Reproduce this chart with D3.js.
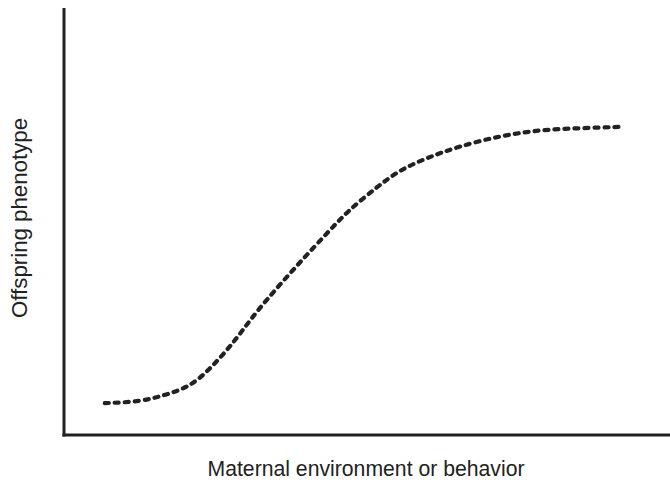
<!DOCTYPE html>
<html><head><meta charset="utf-8">
<script src="https://cdn.jsdelivr.net/npm/d3@7"></script>
<style>body{margin:0;background:#fff}svg{display:block}</style>
</head><body>
<svg id="c" width="670" height="482"></svg>
<script>
const xVals = [6.8, 12.7, 16.8, 20.5, 23.8, 28.8, 31.8, 39, 44.6, 47.3, 52.2, 56, 60.5, 65.5, 72.7, 79.3, 86, 92.7];
const yVals = [7.5, 7.8, 9.4, 11.1, 14.6, 22.6, 28.7, 40.2, 48.6, 52.7, 58.4, 62.4, 65.2, 67.8, 70.4, 71.8, 72.2, 72.5];
const xLabel = "Maternal environment or behavior";
const yLabel = "Offspring phenotype";

const svg = d3.select("#c");
const x = d3.scaleLinear().domain([0,100]).range([64,664]);
const y = d3.scaleLinear().domain([0,100]).range([435,10]);

svg.append("line").attr("x1",x(0)).attr("x2",x(0)).attr("y1",8).attr("y2",y(0)+1.5)
  .attr("stroke","#222").attr("stroke-width",3);
svg.append("line").attr("x1",x(0)-1.5).attr("x2",670).attr("y1",y(0)).attr("y2",y(0))
  .attr("stroke","#222").attr("stroke-width",3);

const pts = xVals.map((v,i)=>[v,yVals[i]]);
const line = d3.line().x(d=>x(d[0])).y(d=>y(d[1])).curve(d3.curveBasis);
svg.append("path").attr("d",line(pts)).attr("fill","none")
  .attr("stroke","#222").attr("stroke-width",4.2).attr("stroke-linecap","round")
  .attr("stroke-dasharray","4,6");

svg.append("text").attr("x",366).attr("y",476).attr("text-anchor","middle")
  .attr("font-family","Liberation Sans, Arial, sans-serif").attr("font-size",21.3).attr("fill","#222")
  .attr("textLength",317).attr("lengthAdjust","spacingAndGlyphs")
  .text(xLabel);
svg.append("text").attr("transform","translate(27,218) rotate(-90)").attr("text-anchor","middle")
  .attr("font-family","Liberation Sans, Arial, sans-serif").attr("font-size",21.5).attr("fill","#222")
  .attr("textLength",200).attr("lengthAdjust","spacingAndGlyphs")
  .text(yLabel);
</script>
</body></html>
